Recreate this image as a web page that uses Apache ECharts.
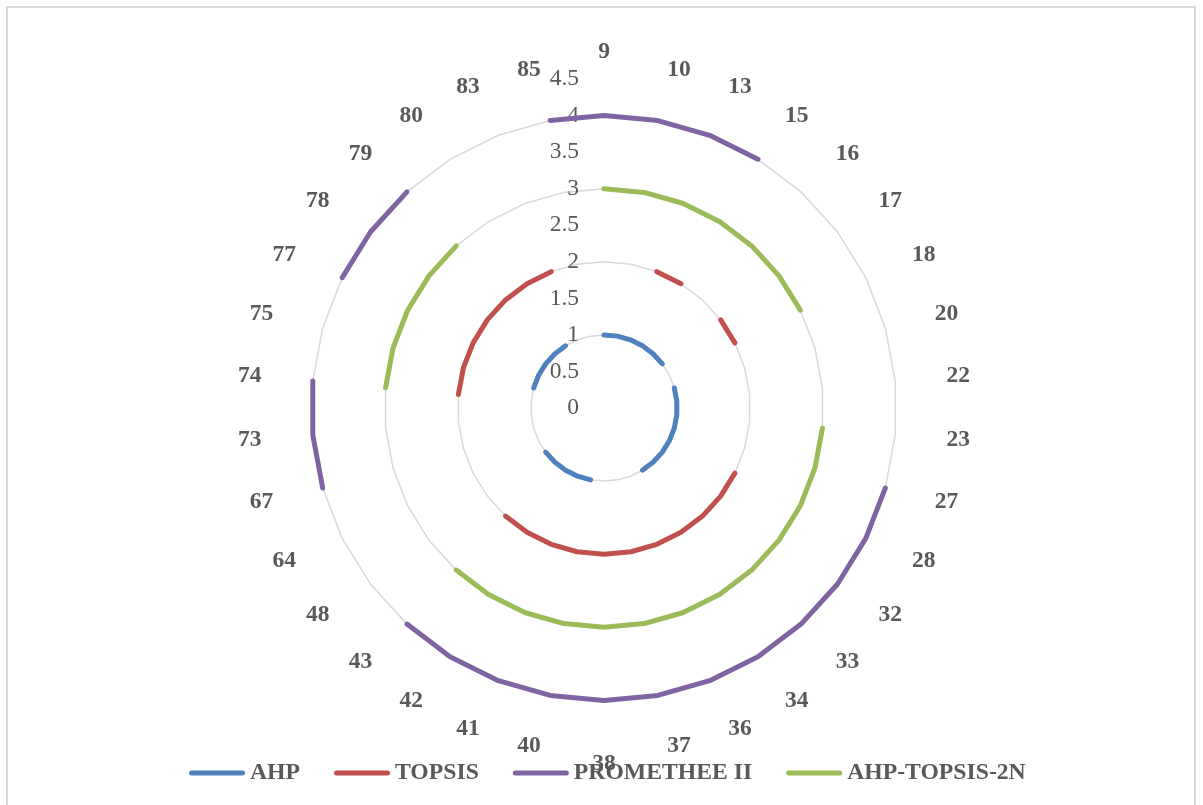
<!doctype html>
<html>
    <head>
        <meta charset="utf-8">
        <style>
            html, body { margin: 0; padding: 0; background: #fff; }
            #frame { position: absolute; left: 6px; top: 6px; width: 1190px; height: 830px; box-sizing: border-box; border: 2px solid #d9d9d9; }
            #main { position: absolute; left: 0; top: 0; width: 1203px; height: 805px; }
        </style>
    </head>
    <body>
        <div id="frame"></div>
        <div id="main"></div>
        <script src="https://cdn.jsdelivr.net/npm/echarts@6/dist/echarts.min.js"></script>
        <script>
            var categories = ['9', '10', '13', '15', '16', '17', '18', '20', '22', '23', '27', '28', '32', '33', '34', '36', '37',
                '38', '40', '41', '42', '43', '48', '64', '67', '73', '74', '75', '77', '78', '79', '80', '83', '85'];

            // null = no value for that alternative (the line breaks there)
            var ahp = [1, 1, 1, 1, 1, 1, null, 1, 1, 1, 1, 1, 1, 1, 1, null, null,
                null, 1, 1, 1, 1, 1, null, null, null, null, 1, 1, 1, 1, 1, null, null];
            var topsis = [null, null, 2, 2, null, 2, 2, null, null, null, null, 2, 2, 2, 2, 2, 2,
                2, 2, 2, 2, 2, null, null, null, null, 2, 2, 2, 2, 2, 2, 2, null];
            var promethee = [4, 4, 4, 4, null, null, null, null, null, null, 4, 4, 4, 4, 4, 4, 4,
                4, 4, 4, 4, 4, null, null, 4, 4, 4, null, 4, 4, 4, null, null, 4];
            var ahpTopsis2n = [3, 3, 3, 3, 3, 3, 3, null, null, 3, 3, 3, 3, 3, 3, 3, 3,
                3, 3, 3, 3, 3, null, null, null, null, 3, 3, 3, 3, 3, null, null, null];

            var seriesNames = ['AHP', 'TOPSIS', 'PROMETHEE II', 'AHP-TOPSIS-2N'];
            var seriesColors = ['#4f81bd', '#c0504d', '#8064a2', '#9bbb59'];
            var axisMax = 4.5;

            var FONT = 'Liberation Serif';
            var CX = 604, CY = 408, R = 329;
            // thick line with round ends, for the legend
            var LINE_ICON = 'path://M2.5,0 L53.5,0 A2.5,2.5 0 0 1 53.5,5 L2.5,5 A2.5,2.5 0 0 1 2.5,0 Z';

            // radar goes counter-clockwise, so list the indicators in reverse after the first one
            var indicator = [categories[0]].concat(categories.slice(1).reverse()).map(function (c, i) {
                var ind = { name: c, min: 0, max: axisMax };
                if (i === 0) {
                    ind.axisLabel = { show: true };
                }
                return ind;
            });

            function toPolar(values) {
                var pts = values.map(function (v, i) { return [v, i]; });
                pts.push([values[0], values.length]);
                return pts;
            }

            var chart = echarts.init(document.getElementById('main'));
            chart.setOption({
                animation: false,
                backgroundColor: 'transparent',
                textStyle: { fontFamily: FONT },
                legend: {
                    left: 189,
                    top: 761,
                    padding: 0,
                    icon: LINE_ICON,
                    itemWidth: 56,
                    itemHeight: 5,
                    itemGap: 34,
                    data: seriesNames,
                    textStyle: { color: '#595959', fontFamily: FONT, fontWeight: 'bold', fontSize: 23.7 }
                },
                radar: {
                    center: [CX, CY],
                    radius: R,
                    startAngle: 90,
                    shape: 'polygon',
                    splitNumber: 9,
                    nameGap: 15,
                    indicator: indicator,
                    axisName: {
                        color: '#595959',
                        fontFamily: FONT,
                        fontWeight: 'bold',
                        fontSize: 23.5
                    },
                    axisLine: { show: false },
                    axisTick: { show: false },
                    axisLabel: {
                        show: false,
                        color: '#595959',
                        fontFamily: FONT,
                        fontSize: 23.5,
                        margin: 25
                    },
                    splitLine: { lineStyle: { color: ['#d9d9d9', 'transparent'], width: 1.5 } },
                    splitArea: { show: false }
                },
                polar: { center: [CX, CY], radius: R },
                angleAxis: { type: 'value', min: 0, max: categories.length, startAngle: 90, clockwise: true, show: false },
                radiusAxis: { type: 'value', min: 0, max: axisMax, show: false },
                series: [ahp, topsis, promethee, ahpTopsis2n].map(function (values, k) {
                    return {
                        type: 'line',
                        name: seriesNames[k],
                        coordinateSystem: 'polar',
                        data: toPolar(values),
                        symbol: 'none',
                        silent: true,
                        color: seriesColors[k],
                        lineStyle: { width: 5, color: seriesColors[k], cap: 'round', join: 'round' }
                    };
                })
            });
        </script>
    </body>
</html>
